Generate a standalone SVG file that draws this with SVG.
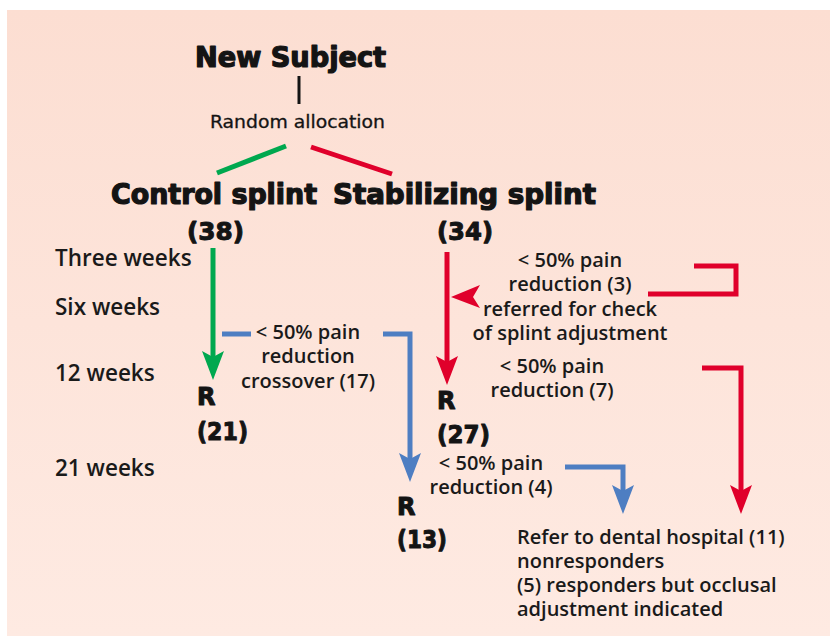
<svg xmlns="http://www.w3.org/2000/svg" width="830" height="636" viewBox="0 0 830 636">
<defs>
<linearGradient id="bg" x1="0" y1="0" x2="0" y2="1">
<stop offset="0" stop-color="#fcded2"/>
<stop offset="1" stop-color="#feeae2"/>
</linearGradient>
</defs>
<style>
.t{font-family:"DejaVu Sans Condensed","Liberation Sans Narrow","Liberation Sans",sans-serif;font-weight:bold;font-size:28px;fill:#141414;stroke:#141414;stroke-width:1.2;stroke-linejoin:round}
.r{font-family:"DejaVu Sans Condensed","Liberation Sans Narrow","Liberation Sans",sans-serif;font-size:18px;fill:#141414;stroke:#141414;stroke-width:0.3}
.n{font-family:"DejaVu Sans",sans-serif;font-weight:bold;font-size:24px;fill:#141414;stroke:#141414;stroke-width:1;stroke-linejoin:round}
.b{font-family:"Open Sans","Noto Sans",sans-serif;font-weight:600;font-size:20px;fill:#1a1a1a}
.w{font-size:22.5px}
.c{text-anchor:middle}
.g{stroke:#00a84f;fill:none;stroke-width:5}
.rd{stroke:#e0002b;fill:none;stroke-width:5}
.bl{stroke:#4e7ec2;fill:none;stroke-width:5}
</style>
<rect x="7" y="10" width="823" height="626" fill="url(#bg)"/>
<g id="new-subject"><text class="t" x="195" y="67" textLength="191" lengthAdjust="spacingAndGlyphs">New Subject</text></g>
<g id="random"><text class="r" x="210" y="128" textLength="175" lengthAdjust="spacingAndGlyphs">Random allocation</text></g>
<g id="control"><text class="t" x="111" y="204" textLength="206" lengthAdjust="spacingAndGlyphs">Control splint</text>
<text class="n" x="187" y="240" textLength="57" lengthAdjust="spacingAndGlyphs">(38)</text></g>
<g id="stabilizing"><text class="t" x="333" y="204" textLength="263" lengthAdjust="spacingAndGlyphs">Stabilizing splint</text>
<text class="n" x="437" y="240" textLength="56" lengthAdjust="spacingAndGlyphs">(34)</text></g>
<g id="timeline">
<text class="b w" x="55" y="266">Three weeks</text>
<text class="b w" x="55" y="315">Six weeks</text>
<text class="b w" x="55" y="381">12 weeks</text>
<text class="b w" x="55" y="476">21 weeks</text>
</g>
<g id="r21"><text class="n" x="197" y="405">R</text><text class="n" x="197" y="440" textLength="51" lengthAdjust="spacingAndGlyphs">(21)</text></g>
<g id="r27"><text class="n" x="437" y="409">R</text><text class="n" x="437" y="443" textLength="53" lengthAdjust="spacingAndGlyphs">(27)</text></g>
<g id="r13"><text class="n" x="397" y="515">R</text><text class="n" x="397" y="548" textLength="50" lengthAdjust="spacingAndGlyphs">(13)</text></g>
<g id="crossover">
<text class="b c" x="308" y="339">&lt; 50% pain</text>
<text class="b c" x="308" y="363">reduction</text>
<text class="b c" x="308" y="388">crossover (17)</text>
</g>
<g id="referred">
<text class="b c" x="570" y="267">&lt; 50% pain</text>
<text class="b c" x="570" y="291">reduction (3)</text>
<text class="b c" x="570" y="316">referred for check</text>
<text class="b c" x="570" y="340">of splint adjustment</text>
</g>
<g id="pain7">
<text class="b c" x="552" y="373">&lt; 50% pain</text>
<text class="b c" x="552" y="397">reduction (7)</text>
</g>
<g id="pain4">
<text class="b c" x="491" y="470">&lt; 50% pain</text>
<text class="b c" x="491" y="494">reduction (4)</text>
</g>
<g id="hospital">
<text class="b" x="517" y="544">Refer to dental hospital (11)</text>
<text class="b" x="517" y="568">nonresponders</text>
<text class="b" x="517" y="592">(5) responders but occlusal</text>
<text class="b" x="517" y="616">adjustment indicated</text>
</g>
<g id="connectors">
<line x1="299" y1="76" x2="299" y2="104" stroke="#141414" stroke-width="3"/>
<line class="g" x1="217" y1="173" x2="286" y2="146"/>
<line class="rd" x1="311" y1="147" x2="392" y2="174"/>
<line class="g" x1="213" y1="248" x2="213" y2="360"/>
<polygon fill="#00a84f" points="213,380 202,351 213,357 224,351"/>
<line class="bl" x1="222" y1="334" x2="251" y2="334"/>
<path class="bl" d="M383,334 H410 V462"/>
<polygon fill="#4e7ec2" points="410,482 399,453 410,459 421,453"/>
<line class="rd" x1="447" y1="252" x2="447" y2="364"/>
<polygon fill="#e0002b" points="447,385 436,356 447,362 458,356"/>
<polygon fill="#e0002b" points="451,297 480,285 473,297 480,308"/>
<path class="rd" d="M694,266 H736 V294 H648"/>
<path class="rd" d="M702,368 H741 V494"/>
<polygon fill="#e0002b" points="741,514 730,485 741,491 752,485"/>
<path class="bl" d="M565,467 H623 V494"/>
<polygon fill="#4e7ec2" points="623,514 612,485 623,491 634,485"/>
</g>
</svg>
